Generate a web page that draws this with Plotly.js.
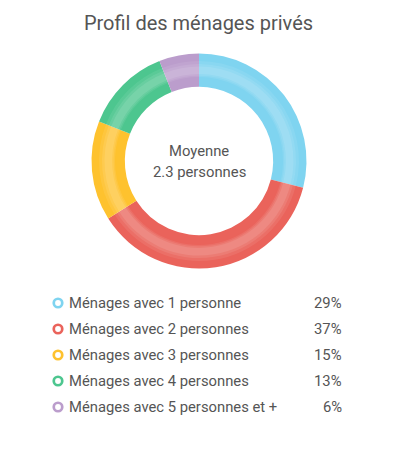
<!DOCTYPE html>
<html>
<head>
<meta charset="utf-8">
<script src="https://cdn.plot.ly/plotly-3.0.1.min.js"></script>
<style>html,body{margin:0;padding:0;background:#fff;}#chart{width:397px;height:459px;}</style>
</head>
<body>
<div id="chart"></div>
<script>
const categories = ["Ménages avec 1 personne","Ménages avec 2 personnes","Ménages avec 3 personnes","Ménages avec 4 personnes","Ménages avec 5 personnes et +"];
const values = [29, 37, 15, 13, 6];
const colors = ["#7fd4f0", "#ea635b", "#fec22e", "#4dc68f", "#bb9dcc"];
const centerLabel = ["Moyenne", "2.3 personnes"];
const titleText = "Profil des ménages privés";

const W = 397, H = 459;
const cx = 199, cy = 161, R = 107.5;
function dom(r) {
  return {
    x: [(cx - r) / W, (cx + r) / W],
    y: [(H - cy - r) / H, (H - cy + r) / H]
  };
}
const txtColor = "#555555";
const fs = 14.8;

const traces = [];
traces.push({
  type: "pie", values: values, labels: categories, sort: false, direction: "clockwise", rotation: 0,
  hole: 0.69, marker: {colors: colors, line: {width: 0}}, textinfo: "none", hoverinfo: "skip",
  domain: dom(R), showlegend: false
});
// soft highlight bands in the middle of the ring
const bands = [[100, 0.84, 0.08], [97, 0.88, 0.09], [94.5, 0.92, 0.10]];
bands.forEach(b => {
  traces.push({
    type: "pie", values: values, labels: categories, sort: false, direction: "clockwise", rotation: 0,
    hole: b[1], marker: {colors: values.map(() => "rgba(255,255,255," + b[2] + ")"), line: {width: 0}},
    textinfo: "none", hoverinfo: "skip", domain: dom(b[0]), showlegend: false
  });
});

// legend markers
const legY0 = 303, legDy = 26;
traces.push({
  type: "scatter", mode: "markers",
  x: categories.map(() => 58),
  y: categories.map((c, i) => legY0 + i * legDy),
  marker: {symbol: "circle-open", size: 8.5, color: colors, line: {width: 2.7, color: colors}},
  hoverinfo: "skip", showlegend: false
});

const annotations = [];
categories.forEach((c, i) => {
  annotations.push({x: 66.5, y: legY0 + i * legDy, xref: "x", yref: "y", text: c, showarrow: false,
    xanchor: "left", yanchor: "middle", font: {family: "Roboto", size: fs, color: txtColor}});
  annotations.push({x: 344, y: legY0 + i * legDy, xref: "x", yref: "y", text: values[i] + "%", showarrow: false,
    xanchor: "right", yanchor: "middle", font: {family: "Roboto", size: fs, color: txtColor}});
});
annotations.push({x: cx, y: 151, xref: "x", yref: "y", text: centerLabel[0], showarrow: false,
  xanchor: "center", yanchor: "middle", font: {family: "Roboto", size: fs, color: txtColor}});
annotations.push({x: cx, y: 172, xref: "x", yref: "y", text: centerLabel[1], showarrow: false,
  xanchor: "center", yanchor: "middle", font: {family: "Roboto", size: fs, color: txtColor}});

const layout = {
  width: W, height: H,
  margin: {l: 0, r: 0, t: 0, b: 0},
  paper_bgcolor: "#fff", plot_bgcolor: "rgba(0,0,0,0)",
  title: {text: titleText, x: 0.5, xanchor: "center", y: 1 - 23 / H, yanchor: "middle", yref: "paper",
    font: {family: "Roboto", size: 20, color: txtColor}},
  xaxis: {range: [0, W], visible: false, fixedrange: true},
  yaxis: {range: [H, 0], visible: false, fixedrange: true},
  annotations: annotations,
  showlegend: false
};
Plotly.newPlot("chart", traces, layout, {displayModeBar: false, staticPlot: true});
</script>
</body>
</html>
